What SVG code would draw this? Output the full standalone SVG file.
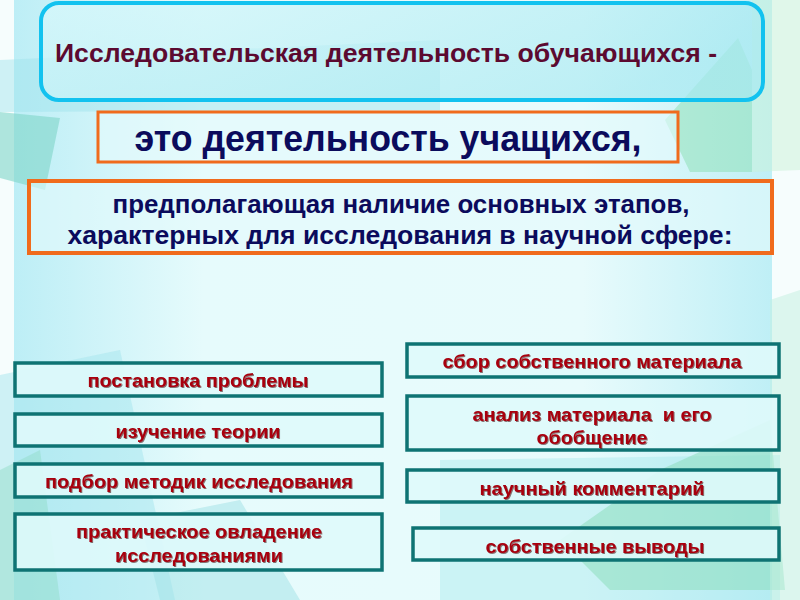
<svg xmlns="http://www.w3.org/2000/svg" width="800" height="600" viewBox="0 0 800 600">
<defs>
<linearGradient id="panel" x1="0" y1="0" x2="1" y2="0">
<stop offset="0" stop-color="#bdeef6"/>
<stop offset="0.25" stop-color="#e6fbfc"/>
<stop offset="0.75" stop-color="#e8fbfc"/>
<stop offset="1" stop-color="#bfeff6"/>
</linearGradient>
<linearGradient id="titleFill" x1="0" y1="0" x2="1" y2="0.3">
<stop offset="0" stop-color="#d8f8fb" stop-opacity="0.7"/>
<stop offset="1" stop-color="#a8e9f1" stop-opacity="0.7"/>
</linearGradient>
<filter id="sh" x="-5%" y="-20%" width="110%" height="140%">
<feDropShadow dx="1" dy="1" stdDeviation="0.3" flood-color="#3a0000" flood-opacity="0.55"/>
</filter>
<style>
.stage{fill:#dffafb;fill-opacity:0.9;stroke:#0e7373;stroke-width:3.5}
.lbl{font-family:"Liberation Sans",Arial,sans-serif;font-weight:bold;font-size:18.5px;fill:#a8000f;text-anchor:middle}
.dark{font-family:"Liberation Sans",Arial,sans-serif;font-weight:bold;fill:#0b0b5c;text-anchor:middle}
.obox{fill:#e4fafc;fill-opacity:0.6;stroke:#f06b1c}
</style>
</defs>
<rect width="800" height="600" fill="#f6fdfd"/>
<rect x="14" y="0" width="758" height="600" fill="url(#panel)"/>
<polygon points="0,60 440,40 440,110 0,112" fill="#9ee3ec" opacity="0.45"/>
<polygon points="0,112 60,118 45,190 0,178" fill="#7fd6c8" opacity="0.6"/>
<polygon points="665,120 738,38 752,70 752,172 690,172" fill="#8fe0b8" opacity="0.55"/>
<polygon points="752,0 800,0 800,170 752,172" fill="#c9f2d8" opacity="0.5"/>
<polygon points="0,375 120,350 175,600 0,600" fill="#a6e6ee" opacity="0.5"/>
<polygon points="0,470 40,450 60,600 0,600" fill="#8edcc6" opacity="0.45"/>
<polygon points="140,520 240,500 300,600 160,600" fill="#9fe2e6" opacity="0.5"/>
<polygon points="440,460 780,455 780,600 440,600" fill="#a9e8ee" opacity="0.45"/>
<polygon points="560,540 660,470 770,420 785,590 610,590" fill="#88dbb8" opacity="0.5"/>
<polygon points="770,300 800,290 800,600 770,600" fill="#c2f0e0" opacity="0.5"/>

<g id="title">
<rect x="41" y="3" width="722" height="97" rx="18" fill="url(#titleFill)" stroke="#12c2ef" stroke-width="4"/>
<text x="55" y="62" font-family="'Liberation Sans',Arial,sans-serif" font-weight="bold" font-size="26" fill="#5c0a30" textLength="662" lengthAdjust="spacingAndGlyphs">Исследовательская деятельность обучающихся -</text>
</g>
<g id="def1">
<rect class="obox" x="98" y="112" width="580" height="50" stroke-width="3"/>
<text class="dark" x="388" y="151" font-size="36" textLength="507" lengthAdjust="spacingAndGlyphs">это деятельность учащихся,</text>
</g>
<g id="def2">
<rect class="obox" x="29" y="181" width="743" height="72" stroke-width="4"/>
<text class="dark" x="401" y="213" font-size="25" textLength="577" lengthAdjust="spacingAndGlyphs">предполагающая наличие основных этапов,</text>
<text class="dark" x="400" y="244" font-size="25" textLength="665" lengthAdjust="spacingAndGlyphs">характерных для исследования в научной сфере:</text>
</g>

<g id="s1"><rect class="stage" x="15" y="363" width="367" height="33"/><text class="lbl" x="198" y="387" filter="url(#sh)" textLength="221" lengthAdjust="spacingAndGlyphs">постановка проблемы</text></g>
<g id="s2"><rect class="stage" x="15" y="414" width="367" height="32"/><text class="lbl" x="198" y="438" filter="url(#sh)" textLength="165" lengthAdjust="spacingAndGlyphs">изучение теории</text></g>
<g id="s3"><rect class="stage" x="15" y="464" width="367" height="33"/><text class="lbl" x="199" y="488" filter="url(#sh)" textLength="308" lengthAdjust="spacingAndGlyphs">подбор методик исследования</text></g>
<g id="s4"><rect class="stage" x="15" y="514" width="367" height="56"/><text class="lbl" x="199" y="538" filter="url(#sh)" textLength="246" lengthAdjust="spacingAndGlyphs">практическое овладение</text><text class="lbl" x="199" y="562" filter="url(#sh)" textLength="168" lengthAdjust="spacingAndGlyphs">исследованиями</text></g>

<g id="s5"><rect class="stage" x="407" y="344" width="372" height="33"/><text class="lbl" x="592" y="368" filter="url(#sh)" textLength="299" lengthAdjust="spacingAndGlyphs">сбор собственного материала</text></g>
<g id="s6"><rect class="stage" x="407" y="396" width="372" height="54"/><text class="lbl" x="592" y="421" filter="url(#sh)" textLength="239" lengthAdjust="spacingAndGlyphs">анализ материала&#160; и его</text><text class="lbl" x="592" y="444" filter="url(#sh)" textLength="111" lengthAdjust="spacingAndGlyphs">обобщение</text></g>
<g id="s7"><rect class="stage" x="407" y="470" width="372" height="32"/><text class="lbl" x="592" y="495" filter="url(#sh)" textLength="225" lengthAdjust="spacingAndGlyphs">научный комментарий</text></g>
<g id="s8"><rect class="stage" x="413" y="528" width="366" height="32"/><text class="lbl" x="595" y="553" filter="url(#sh)" textLength="219" lengthAdjust="spacingAndGlyphs">собственные выводы</text></g>
<g id="connectors"></g>
</svg>
